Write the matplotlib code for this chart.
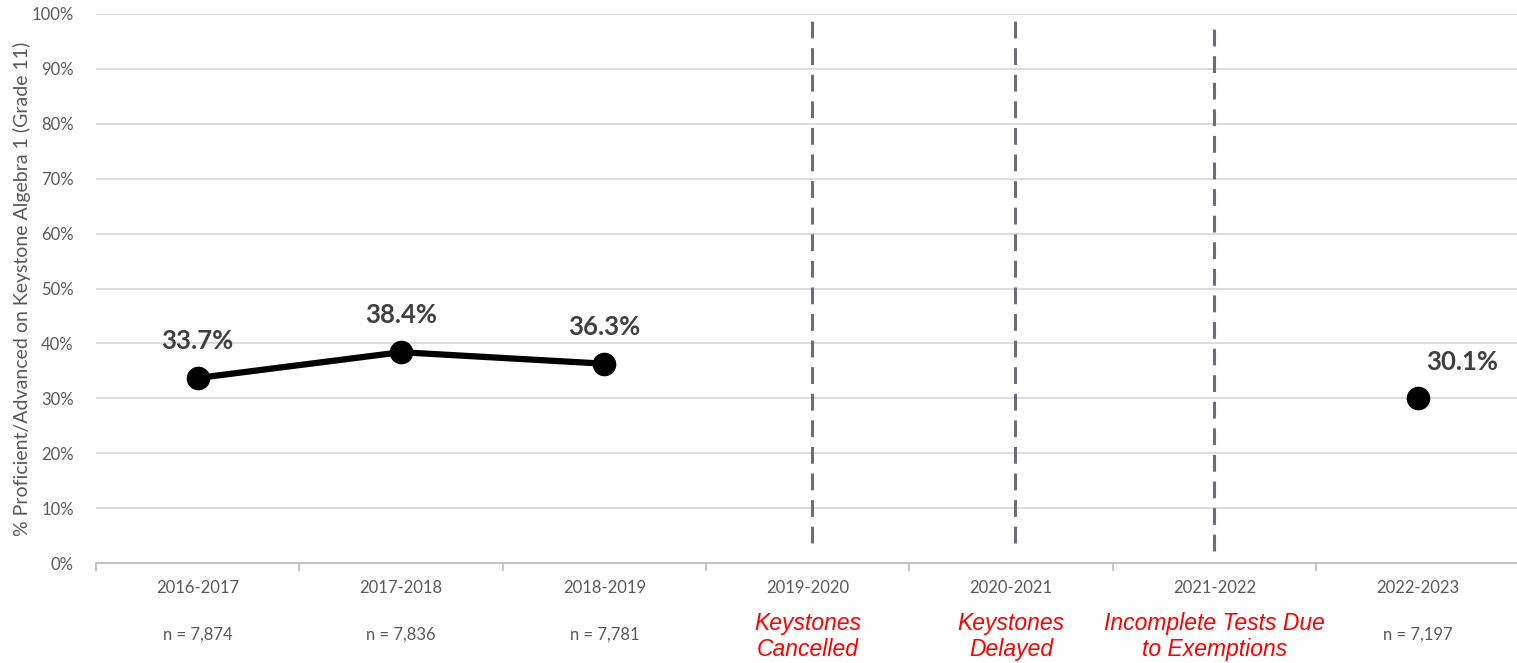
import matplotlib
matplotlib.use("Agg")
import matplotlib.pyplot as plt
import matplotlib.transforms as mtransforms
import numpy as np

years = ["2016-2017", "2017-2018", "2018-2019", "2019-2020",
         "2020-2021", "2021-2022", "2022-2023"]
pct = [33.7, 38.4, 36.3, np.nan, np.nan, np.nan, 30.1]
n_counts = ["n = 7,874", "n = 7,836", "n = 7,781", "", "", "", "n = 7,197"]
notes = ["", "", "", "Keystones\nCancelled", "Keystones\nDelayed",
         "Incomplete Tests Due\nto Exemptions", ""]
# dashed marker lines: (category index, x shift, y bottom, y top)
gaps = [(3, 0.02, 3.6, 100.4), (4, 0.02, 3.6, 100.4), (5, 0.0, 2.2, 98.7)]

plt.rcParams["font.family"] = ["Lato", "DejaVu Sans"]
tick_grey = "#595959"

fig = plt.figure(figsize=(15.17, 6.63), dpi=100)
ax = fig.add_axes([0.0633, 0.1508, 0.9382, 0.8281])

x = np.arange(len(years))
vals = np.array(pct)

ax.plot(x[:3], vals[:3], color="black", lw=4.5, marker="o", ms=16,
        solid_capstyle="round", zorder=4)
ax.plot(x[6:], vals[6:], color="black", lw=0, marker="o", ms=16, zorder=4)

for i, ybot, ytop in [(g[0] + g[1], g[2], g[3]) for g in gaps]:
    ax.plot([i, i], [ybot, ytop], color="#6b6e7a", lw=2.2,
            dashes=(5.5, 3.2), zorder=3, clip_on=False)

# data labels
for i, v in enumerate(vals):
    if np.isnan(v):
        continue
    off = (45, 36) if i == 6 else (0, 37)
    ax.annotate(f"{v:.1f}%", (i, v), xytext=off, textcoords="offset pixels",
                ha="center", va="center", fontsize=18.5, fontweight="bold",
                color="#404040", zorder=5)

ax.set_xlim(-0.5, 6.5)
ax.set_ylim(0, 100)
ax.set_yticks(np.arange(0, 101, 10))
ax.set_yticklabels([f"{t}%" for t in range(0, 101, 10)])
ax.yaxis.grid(True, color="#d9d9d9", lw=1.3)
ax.set_axisbelow(True)
for s in ["top", "right", "left"]:
    ax.spines[s].set_visible(False)
ax.spines["bottom"].set_color("#bfbfbf")
ax.spines["bottom"].set_linewidth(1.3)

ax.set_xticks(np.arange(-0.5, 7, 1))
ax.set_xticklabels([])
ax.tick_params(axis="x", length=6, color="#bfbfbf", width=1.3)
ax.tick_params(axis="y", length=0, labelsize=12, labelcolor=tick_grey, pad=16)

ax.set_ylabel("% Proficient/Advanced on Keystone Algebra 1 (Grade 11)",
              fontsize=14, color=tick_grey)
ax.yaxis.set_label_coords(-0.0455, 0.5)

trans = mtransforms.blended_transform_factory(ax.transData, ax.transAxes)
for i, yr in enumerate(years):
    ax.text(i, -0.0455, yr, transform=trans, ha="center", va="center",
            fontsize=12, color=tick_grey)
    if n_counts[i]:
        ax.text(i, -0.131, n_counts[i], transform=trans, ha="center",
                va="center", fontsize=12, color=tick_grey)
    if notes[i]:
        ax.text(i, -0.134, notes[i], transform=trans, ha="center",
                va="center", fontsize=16.5, color="#ff0000", style="italic",
                family=["Liberation Sans Narrow", "Liberation Sans"],
                linespacing=1.2)

fig.savefig("out.png", dpi=100)
